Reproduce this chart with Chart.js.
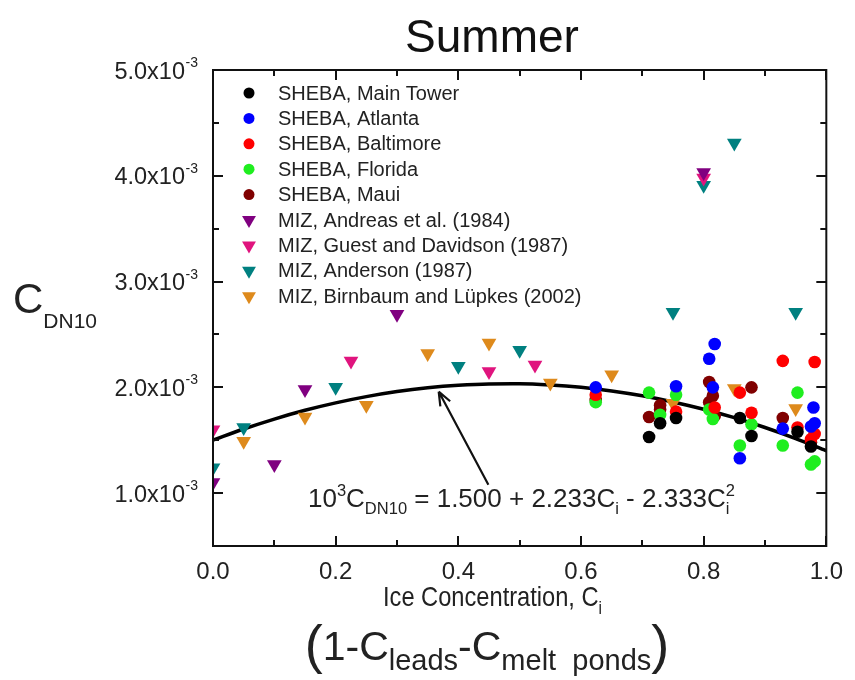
<!DOCTYPE html>
<html>
<head>
<meta charset="utf-8">
<script src="https://cdn.jsdelivr.net/npm/chart.js@4"></script>
<style>
html,body{margin:0;padding:0;background:#fff;}
#wrap{width:855px;height:680px;}
</style>
</head>
<body>
<div id="wrap"><canvas id="c" width="855" height="680"></canvas></div>
<script>
// ---------- data (C_DN10 values in units of 10^-3) ----------
const chartTitle = 'Summer';
const xTickValues = [0, 0.2, 0.4, 0.6, 0.8, 1.0];
const yTickValues = [1, 2, 3, 4, 5];
const yTickExponent = '-3';

const mainTowerX = [0.711, 0.729, 0.755, 0.859, 0.878, 0.953, 0.975];
const mainTowerY = [1.53, 1.66, 1.71, 1.71, 1.54, 1.58, 1.44];

const atlantaX = [0.624, 0.755, 0.809, 0.818, 0.815, 0.859, 0.929, 0.979, 0.981, 0.975];
const atlantaY = [2.00, 2.01, 2.27, 2.41, 2.00, 1.33, 1.61, 1.81, 1.66, 1.63];

const baltimoreX = [0.624, 0.755, 0.818, 0.859, 0.878, 0.929, 0.953, 0.981, 0.981, 0.975];
const baltimoreY = [1.93, 1.77, 1.81, 1.95, 1.76, 2.25, 1.62, 2.24, 1.56, 1.51];

const floridaX = [0.624, 0.711, 0.729, 0.755, 0.809, 0.815, 0.859, 0.878, 0.929, 0.953, 0.981, 0.975];
const floridaY = [1.86, 1.95, 1.74, 1.93, 1.79, 1.70, 1.45, 1.65, 1.45, 1.95, 1.30, 1.27];

const mauiX = [0.624, 0.711, 0.729, 0.729, 0.809, 0.815, 0.809, 0.818, 0.878, 0.929, 0.975];
const mauiY = [1.88, 1.72, 1.83, 1.79, 2.05, 1.92, 1.86, 1.73, 2.00, 1.71, 1.48];

const andreasX = [0.00, 0.10, 0.15, 0.30, 0.80];
const andreasY = [1.10, 1.27, 1.98, 2.69, 4.03];

const guestX = [0.00, 0.225, 0.45, 0.525, 0.80];
const guestY = [1.60, 2.25, 2.15, 2.21, 3.98];

const andersonX = [0.00, 0.05, 0.20, 0.40, 0.50, 0.75, 0.80, 0.85, 0.95];
const andersonY = [1.24, 1.62, 2.00, 2.20, 2.35, 2.71, 3.91, 4.31, 2.71];

const birnbaumX = [0.05, 0.15, 0.25, 0.35, 0.45, 0.55, 0.65, 0.75, 0.85, 0.95];
const birnbaumY = [1.49, 1.72, 1.83, 2.32, 2.42, 2.04, 2.12, 1.85, 1.99, 1.80];

// fitted curve: 10^3 C_DN10 = 1.500 + 2.233 Ci - 2.333 Ci^2
const fitX = [0, 0.05, 0.10, 0.15, 0.20, 0.25, 0.30, 0.35, 0.40, 0.45, 0.50, 0.55, 0.60, 0.65, 0.70, 0.75, 0.80, 0.85, 0.90, 0.95, 1.00];
const fitY = [1.500, 1.606, 1.700, 1.783, 1.853, 1.912, 1.960, 1.996, 2.020, 2.032, 2.033, 2.022, 2.000, 1.966, 1.920, 1.862, 1.793, 1.713, 1.620, 1.516, 1.400];

const seriesLabels = [
  'SHEBA, Main Tower', 'SHEBA, Atlanta', 'SHEBA, Baltimore', 'SHEBA, Florida', 'SHEBA, Maui',
  'MIZ, Andreas et al. (1984)', 'MIZ, Guest and Davidson (1987)', 'MIZ, Anderson (1987)', 'MIZ, Birnbaum and Lüpkes (2002)'
];
const seriesColors = ['#000000', '#0000ff', '#ff0000', '#1fee1f', '#800000', '#800080', '#e0147e', '#008080', '#de8a1c'];
const seriesX = [mainTowerX, atlantaX, baltimoreX, floridaX, mauiX, andreasX, guestX, andersonX, birnbaumX];
const seriesY = [mainTowerY, atlantaY, baltimoreY, floridaY, mauiY, andreasY, guestY, andersonY, birnbaumY];
const seriesShape = ['circle', 'circle', 'circle', 'circle', 'circle', 'tri', 'tri', 'tri', 'tri'];

// ---------- build datasets ----------
const FONT = "'Liberation Sans', Arial, Helvetica, sans-serif";
const datasets = seriesLabels.map((lab, i) => {
  const tri = seriesShape[i] === 'tri';
  return {
    label: lab,
    data: seriesX[i].map((x, k) => ({x: x, y: seriesY[i][k]})),
    backgroundColor: seriesColors[i],
    borderColor: seriesColors[i],
    borderWidth: 0,
    pointStyle: tri ? 'triangle' : 'circle',
    pointRotation: tri ? 180 : 0,
    pointRadius: tri ? 8.5 : 6.3,
    pointBorderWidth: 0,
    showLine: false,
    clip: 0,
    order: i
  };
});
datasets.push({
  label: '',
  isFit: true,
  data: fitX.map((x, k) => ({x: x, y: fitY[k]})),
  showLine: true,
  borderColor: '#000',
  borderWidth: 3.5,
  pointRadius: 0,
  cubicInterpolationMode: 'monotone',
  fill: false,
  clip: 0,
  order: 20
});

// ---------- helpers ----------
function drawRich(ctx, segs, x, y) {
  let cx = x, lastStart = x;
  segs.forEach(s => {
    ctx.font = s.size + 'px ' + FONT;
    const w = ctx.measureText(s.t).width;
    let sx = cx;
    if (s.stack) { sx = lastStart; }
    ctx.fillText(s.t, sx, y + (s.dy || 0));
    if (s.stack) { cx = Math.max(cx, sx + w); }
    else { lastStart = sx; cx = sx + w; }
  });
  return cx - x;
}
function richWidth(ctx, segs) {
  let w = 0;
  segs.forEach(s => { ctx.font = s.size + 'px ' + FONT; w += ctx.measureText(s.t).width; });
  return w;
}

const decor = {
  id: 'decor',
  afterDraw(chart) {
    const ctx = chart.ctx;
    const a = chart.chartArea;
    const xs = chart.scales.x, ys = chart.scales.y;
    ctx.save();
    ctx.fillStyle = '#222';
    ctx.strokeStyle = '#111';

    // frame
    ctx.lineWidth = 2;
    ctx.strokeRect(a.left, a.top, a.right - a.left, a.bottom - a.top);

    // inward ticks
    ctx.beginPath();
    for (let k = 0; k <= 10; k++) {
      const v = k / 10;
      const px = Math.round(xs.getPixelForValue(v));
      const L = (k % 2 === 0) ? 10 : 6;
      ctx.moveTo(px, a.bottom); ctx.lineTo(px, a.bottom - L);
      ctx.moveTo(px, a.top); ctx.lineTo(px, a.top + L);
    }
    for (let k = 1; k <= 10; k++) {
      const v = k / 2;
      const py = Math.round(ys.getPixelForValue(v));
      const L = (k % 2 === 0) ? 10 : 6;
      ctx.moveTo(a.left, py); ctx.lineTo(a.left + L, py);
      ctx.moveTo(a.right, py); ctx.lineTo(a.right - L, py);
    }
    ctx.stroke();

    // y tick labels with superscript
    ctx.textBaseline = 'alphabetic';
    yTickValues.forEach(v => {
      const py = ys.getPixelForValue(v);
      ctx.font = '23.5px ' + FONT;
      ctx.textAlign = 'right';
      ctx.fillText(v.toFixed(1) + 'x10', 185, py + 8.5);
      ctx.font = '14px ' + FONT;
      ctx.textAlign = 'left';
      ctx.fillText(yTickExponent, 185.5, py - 3);
    });

    // legend
    ctx.textAlign = 'left';
    ctx.textBaseline = 'middle';
    ctx.font = '20px ' + FONT;
    chart.data.datasets.forEach((ds, i) => {
      if (ds.isFit) return;
      const ly = 93 + i * 25.4;
      const lx = 249;
      ctx.fillStyle = ds.backgroundColor;
      ctx.beginPath();
      if (ds.pointStyle === 'triangle') {
        const r = 8;
        ctx.moveTo(lx - r * 0.866, ly - r * 0.5);
        ctx.lineTo(lx + r * 0.866, ly - r * 0.5);
        ctx.lineTo(lx, ly + r);
        ctx.closePath();
      } else {
        ctx.arc(lx, ly, 5.5, 0, Math.PI * 2);
      }
      ctx.fill();
      ctx.fillStyle = '#222';
      ctx.fillText(ds.label, 278, ly + 1);
    });

    // title
    ctx.textAlign = 'center';
    ctx.textBaseline = 'alphabetic';
    ctx.font = '46px ' + FONT;
    ctx.fillStyle = '#111';
    ctx.fillText(chartTitle, 492, 52);

    // y axis title C_DN10
    ctx.textAlign = 'left';
    ctx.fillStyle = '#222';
    drawRich(ctx, [{t: 'C', size: 42}, {t: 'DN10', size: 21, dy: 15}], 13, 313);

    // x axis title (slightly condensed, like the reference)
    ctx.save();
    ctx.translate(383, 606);
    ctx.scale(0.86, 1);
    drawRich(ctx, [{t: 'Ice Concentration, C', size: 27.5}, {t: 'i', size: 18, dy: 8}], 0, 0);
    ctx.restore();

    // second x title line
    const line2 = [
      {t: '(', size: 54, dy: 3},
      {t: '1-C', size: 41},
      {t: 'leads', size: 29, dy: 10},
      {t: '-C', size: 41},
      {t: 'melt  ponds', size: 29, dy: 10},
      {t: ')', size: 54, dy: 3}
    ];
    const w2 = richWidth(ctx, line2);
    drawRich(ctx, line2, 487 - w2 / 2, 660);

    // equation
    const eq = [
      {t: '10', size: 26},
      {t: '3', size: 16.5, dy: -11},
      {t: 'C', size: 26},
      {t: 'DN10', size: 16.5, dy: 7},
      {t: ' = 1.500 + 2.233C', size: 26},
      {t: 'i', size: 16.5, dy: 7},
      {t: ' - 2.333C', size: 26},
      {t: 'i', size: 16.5, dy: 7},
      {t: '2', size: 16.5, dy: -11, stack: true}
    ];
    drawRich(ctx, eq, 308, 507);

    // arrow from equation to curve
    const tx = xs.getPixelForValue(0.368), ty = ys.getPixelForValue(1.96);
    const fx = xs.getPixelForValue(0.449), fy = ys.getPixelForValue(1.08);
    ctx.strokeStyle = '#111';
    ctx.lineWidth = 2.2;
    ctx.beginPath();
    ctx.moveTo(fx, fy); ctx.lineTo(tx, ty);
    const ang = Math.atan2(ty - fy, tx - fx);
    const hl = 15, ha = 0.38;
    ctx.moveTo(tx, ty); ctx.lineTo(tx - hl * Math.cos(ang - ha), ty - hl * Math.sin(ang - ha));
    ctx.moveTo(tx, ty); ctx.lineTo(tx - hl * Math.cos(ang + ha), ty - hl * Math.sin(ang + ha));
    ctx.stroke();
    ctx.restore();
  }
};

new Chart(document.getElementById('c').getContext('2d'), {
  type: 'scatter',
  data: {datasets: datasets},
  options: {
    responsive: false,
    animation: false,
    devicePixelRatio: 1,
    layout: {padding: {top: 70, right: 25, left: 0, bottom: 0}},
    plugins: {legend: {display: false}, tooltip: {enabled: false}, title: {display: false}},
    scales: {
      x: {
        type: 'linear', min: 0, max: 1,
        afterBuildTicks: s => { s.ticks = xTickValues.map(v => ({value: v})); },
        afterFit: s => { s.height = 134; },
        grid: {display: false, drawTicks: false},
        border: {display: false},
        ticks: {padding: 12, color: '#222', font: {family: FONT, size: 24}, maxRotation: 0, autoSkip: false,
                callback: v => Number(v).toFixed(1)}
      },
      y: {
        type: 'linear', min: 0.5, max: 5,
        afterBuildTicks: s => { s.ticks = yTickValues.map(v => ({value: v})); },
        afterFit: s => { s.width = 213; },
        grid: {display: false, drawTicks: false},
        border: {display: false},
        ticks: {display: false}
      }
    }
  },
  plugins: [decor]
});
</script>
</body>
</html>
